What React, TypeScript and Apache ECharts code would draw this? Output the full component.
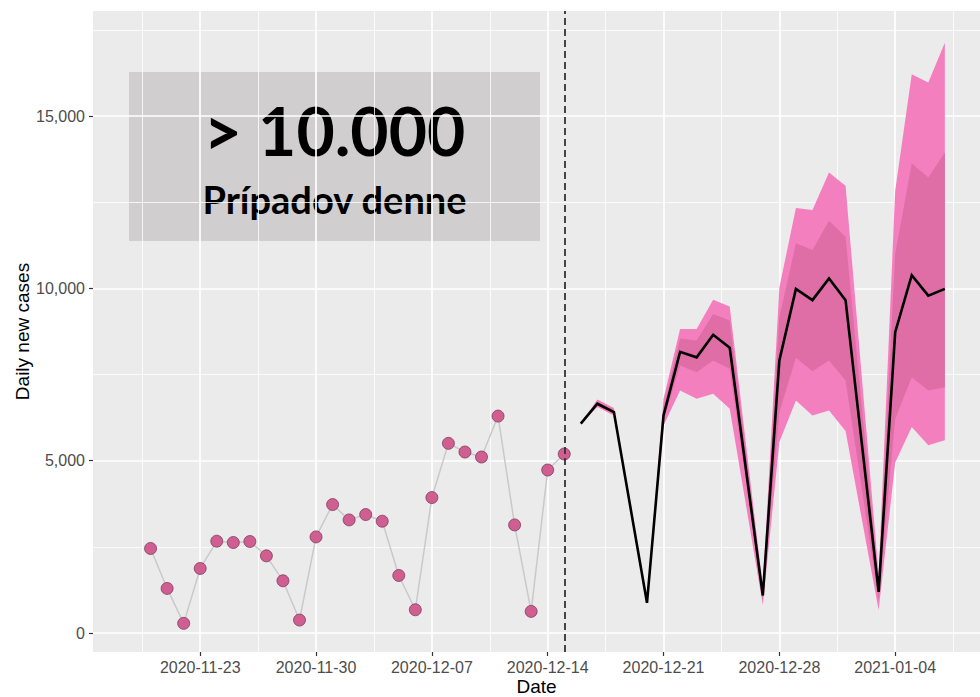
import React, { useEffect, useRef } from "react";
import * as echarts from "echarts";

// ---------- data ----------
const observedDates = [
  "2020-11-20", "2020-11-21", "2020-11-22", "2020-11-23", "2020-11-24", "2020-11-25",
  "2020-11-26", "2020-11-27", "2020-11-28", "2020-11-29", "2020-11-30", "2020-12-01",
  "2020-12-02", "2020-12-03", "2020-12-04", "2020-12-05", "2020-12-06", "2020-12-07",
  "2020-12-08", "2020-12-09", "2020-12-10", "2020-12-11", "2020-12-12", "2020-12-13",
  "2020-12-14", "2020-12-15",
];
const observedCases = [
  2454, 1295, 281, 1874, 2665, 2627, 2656, 2240, 1516, 377, 2790, 3728, 3283, 3438,
  3245, 1671, 676, 3931, 5504, 5253, 5108, 6295, 3138, 628, 4731, 5195,
];

const forecastDates = [
  "2020-12-16", "2020-12-17", "2020-12-18", "2020-12-20", "2020-12-21", "2020-12-22",
  "2020-12-23", "2020-12-24", "2020-12-25", "2020-12-27", "2020-12-28", "2020-12-29",
  "2020-12-30", "2020-12-31", "2021-01-01", "2021-01-03", "2021-01-04", "2021-01-05",
  "2021-01-06", "2021-01-07",
];
const forecastMedian = [
  6075, 6654, 6412, 878, 6316, 8160, 8000, 8653, 8277, 1090, 7909, 9986, 9660, 10290,
  9660, 1197, 8729, 10385, 9792, 9986,
];
const outerUpper = [
  6075, 6780, 6530, 920, 6800, 8826, 8826, 9670, 9473, 1350, 10030, 12332, 12274, 13364,
  12979, 1700, 12834, 16214, 15972, 17130,
];
const innerUpper = [
  6075, 6720, 6470, 900, 6560, 8545, 8488, 9261, 9068, 1220, 9160, 11308, 11115, 11965,
  11501, 1450, 11000, 13625, 13219, 13944,
];
const innerLower = [
  6075, 6600, 6360, 860, 6170, 7764, 7570, 7909, 7668, 980, 6400, 7987, 7599, 7909,
  7329, 950, 6220, 7426, 7040, 7135,
];
const outerLower = [
  6075, 6560, 6310, 840, 6026, 7040, 6799, 6944, 6509, 811, 5540, 6750, 6316, 6460,
  5861, 666, 4950, 5977, 5446, 5591,
];

const dividerDate = "2020-12-15";
const xTickDates = [
  "2020-11-23", "2020-11-30", "2020-12-07", "2020-12-14", "2020-12-21", "2020-12-28",
  "2021-01-04",
];
const yTicks = [0, 5000, 10000, 15000];
const yMinorTicks = [2500, 7500, 12500, 17500];
const xRange = ["2020-11-16T12:30:00Z", "2021-01-09T03:00:00Z"];
const yRange = [-550, 18050];

const headline = "> 10.000";
const subline = "Prípadov denne";

// ---------- helpers ----------
const BASE = Date.UTC(2020, 10, 23);
const DAY = 86400000;
const dayOf = (s: string) =>
  (Date.parse(s.length === 10 ? s + "T00:00:00Z" : s) - BASE) / DAY;
const fmtDay = (v: number) =>
  new Date(BASE + Math.round(v) * DAY).toISOString().slice(0, 10);

const AXIS_FONT = "Liberation Sans, Arial, sans-serif";

const App: React.FC = () => {
  const ref = useRef<HTMLDivElement>(null);

  useEffect(() => {
    if (!ref.current) return;
    const chart = echarts.init(ref.current, undefined, { renderer: "svg" });

    const xTicks = xTickDates.map(dayOf);
    const xMinor = [xTicks[0] - 3.5, ...xTicks.map((t) => t + 3.5)];
    const fx = forecastDates.map(dayOf);

    const bandSeries = (lo: number[], hi: number[], color: string, z: number) => ({
      type: "custom",
      z,
      silent: true,
      coordinateSystem: "cartesian2d",
      data: fx.map((x, i) => [x, lo[i], hi[i]]),
      encode: { x: 0, y: [1, 2] },
      renderItem: (params: any, api: any) => {
        if (params.dataIndex !== 0) return null;
        const pts: number[][] = [];
        for (let i = 0; i < fx.length; i++) pts.push(api.coord([fx[i], hi[i]]));
        for (let i = fx.length - 1; i >= 0; i--) pts.push(api.coord([fx[i], lo[i]]));
        return { type: "polygon", shape: { points: pts }, style: { fill: color } };
      },
    });

    const gridLine = (w: number) => ({ color: "#FFFFFF", width: w, type: "solid" });

    const option: any = {
      animation: false,
      backgroundColor: "#FFFFFF",
      grid: {
        left: 93,
        right: 0,
        top: 11,
        bottom: 45,
        show: true,
        backgroundColor: "#EBEBEB",
        borderWidth: 0,
        containLabel: false,
        outerBoundsMode: "none",
      },
      xAxis: {
        type: "value",
        min: dayOf(xRange[0]),
        max: dayOf(xRange[1]),
        splitLine: { show: false },
        axisLine: { show: false, onZero: false },
        axisTick: {
          show: true,
          customValues: xTicks,
          length: 4,
          lineStyle: { color: "#333333", width: 1.2 },
        },
        axisLabel: {
          customValues: xTicks,
          formatter: (v: number) => fmtDay(v),
          color: "#4D4D4D",
          fontSize: 16,
          fontFamily: AXIS_FONT,
          margin: 7,
        },
        name: "Date",
        nameLocation: "middle",
        nameGap: 25,
        nameMoveOverlap: false,
        nameTextStyle: { color: "#000000", fontSize: 19, lineHeight: 19, fontFamily: AXIS_FONT },
      },
      yAxis: {
        type: "value",
        min: yRange[0],
        max: yRange[1],
        splitLine: { show: false },
        axisLine: { show: false, onZero: false },
        axisTick: {
          show: true,
          customValues: yTicks,
          length: 4,
          lineStyle: { color: "#333333", width: 1.2 },
        },
        axisLabel: {
          customValues: yTicks,
          formatter: (v: number) => Math.round(v).toLocaleString("en-US"),
          color: "#4D4D4D",
          fontSize: 16,
          fontFamily: AXIS_FONT,
          margin: 8,
        },
        name: "Daily new cases",
        nameLocation: "middle",
        nameGap: 61,
        nameMoveOverlap: false,
        nameTextStyle: { color: "#000000", fontSize: 19, fontFamily: AXIS_FONT },
      },
      series: [
        // grid lines drawn through the axes' scales
        {
          type: "line",
          data: [],
          silent: true,
          z: 1,
          markLine: {
            z: 1,
            silent: true,
            symbol: ["none", "none"],
            label: { show: false },
            emphasis: { disabled: true },
            data: [
              ...xMinor.map((v) => ({ xAxis: v, lineStyle: gridLine(0.8) })),
              ...yMinorTicks.map((v) => ({ yAxis: v, lineStyle: gridLine(0.8) })),
              ...xTicks.map((v) => ({ xAxis: v, lineStyle: gridLine(1.7) })),
              ...yTicks.map((v) => ({ yAxis: v, lineStyle: gridLine(1.7) })),
            ],
          },
        },
        bandSeries(outerLower, outerUpper, "#F47FBE", 2),
        bandSeries(innerLower, innerUpper, "#DE6EA5", 2.1),
        {
          type: "line",
          data: fx.map((x, i) => [x, forecastMedian[i]]),
          showSymbol: false,
          symbol: "none",
          z: 3,
          lineStyle: { color: "#000000", width: 2.6, join: "miter" },
          silent: true,
        },
        {
          type: "line",
          data: observedDates.map((d, i) => [dayOf(d), observedCases[i]]),
          showSymbol: false,
          symbol: "none",
          z: 3,
          lineStyle: { color: "#C9C9C9", width: 1.5 },
          silent: true,
          markLine: {
            z: 6,
            silent: true,
            symbol: ["none", "none"],
            label: { show: false },
            lineStyle: { color: "#333333", width: 1.8, type: [7, 4] },
            data: [{ xAxis: dayOf(dividerDate) }],
          },
        },
        {
          type: "scatter",
          data: observedDates.map((d, i) => [dayOf(d), observedCases[i]]),
          symbol: "circle",
          symbolSize: 12,
          z: 4,
          itemStyle: { color: "#D05E91", borderColor: "#6E3050", borderWidth: 0.7, opacity: 1 },
          silent: true,
        },
      ],
      graphic: [
        {
          type: "group",
          left: 129,
          top: 72,
          z: 10,
          children: [
            {
              type: "rect",
              shape: { x: 0, y: 0, width: 411, height: 169 },
              style: { fill: "#D0CECF", stroke: "none" },
            },
            {
              type: "text",
              x: 205.5,
              y: 58.5,
              style: {
                text: headline,
                fill: "#000000",
                stroke: "none",
                lineWidth: 0,
                fontSize: 66,
                fontWeight: "bold",
                fontFamily: "Lato",
                align: "center",
                verticalAlign: "middle",
              },
            },
            {
              type: "text",
              x: 205.5,
              y: 127.3,
              style: {
                text: subline,
                fill: "#000000",
                stroke: "none",
                lineWidth: 0,
                fontSize: 38,
                fontWeight: "bold",
                fontFamily: "Lato",
                align: "center",
                verticalAlign: "middle",
              },
            },
          ],
        },
      ],
    };

    chart.setOption(option);
    return () => chart.dispose();
  }, []);

  return (
    <div
      ref={ref}
      style={{ position: "fixed", left: 0, top: 0, width: 980, height: 697, background: "#fff" }}
    />
  );
};

export default App;
